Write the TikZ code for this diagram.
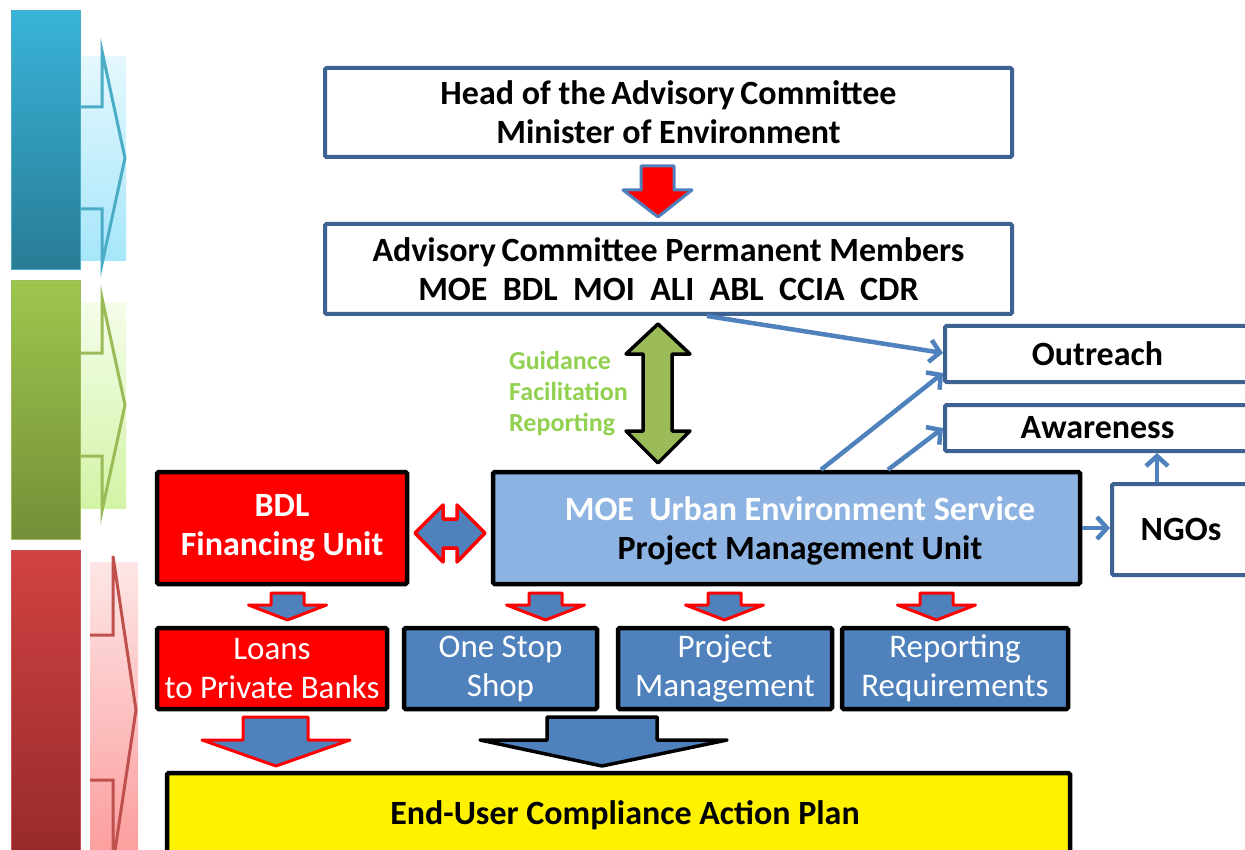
\documentclass[tikz,border=0pt]{standalone}
\usepackage{fontspec}
\setmainfont{Carlito}
\usetikzlibrary{arrows.meta,calc}

\definecolor{steel}{HTML}{3E6291}
\definecolor{accent}{HTML}{4F81BD}
\definecolor{pmufill}{HTML}{8DB3E2}
\definecolor{olive}{HTML}{9BBB59}
\definecolor{guide}{HTML}{92D050}
% side bars
\definecolor{cyantop}{HTML}{39B3D9}
\definecolor{cyanbot}{HTML}{297C95}
\definecolor{cyanpaletop}{HTML}{E4F8FE}
\definecolor{cyanpalebot}{HTML}{A6E6FA}
\definecolor{cyanline}{HTML}{4BACC6}
\definecolor{greentop}{HTML}{9DC64D}
\definecolor{greenbot}{HTML}{748F38}
\definecolor{greenpaletop}{HTML}{F4FDE9}
\definecolor{greenpalebot}{HTML}{D3F4A6}
\definecolor{redtop}{HTML}{D14242}
\definecolor{redbot}{HTML}{962A2A}
\definecolor{redpaletop}{HTML}{FDE6E6}
\definecolor{redpalebot}{HTML}{FC9C9C}
\definecolor{redline}{HTML}{C0504D}

\tikzset{
  outlinebox/.style={draw=steel, line width=4pt, fill=white, rounded corners=1.5pt, inner sep=0pt},
  unitbox/.style={draw=black, line width=4.5pt, rounded corners=1.5pt, inner sep=0pt},
  headtext/.style={font=\fontsize{34}{39}\selectfont\bfseries, align=center},
  rowtext/.style={font=\fontsize{33}{39}\selectfont, text=white, align=center},
  link/.style={draw=accent, line width=4.5pt, -{Straight Barb[length=10pt,width=22pt]}},
  blockarrow/.style={fill=accent, line width=3pt, line join=round},
  sideline/.style={line width=3pt, line join=miter},
}

\begin{document}
\begin{tikzpicture}[x=1pt,y=-1pt]
\clip (0,0) rectangle (1245,850);
\fill[white] (0,0) rectangle (1245,850);

% ---- side bars with chevrons ----
\shade[top color=cyanpaletop, bottom color=cyanpalebot] (79,57) rectangle (126,261);
\draw[sideline, draw=cyanline] (79,107) -- (102,107) -- (102,51) -- (125,158) -- (102,264) -- (102,209) -- (79,209);
\shade[top color=cyantop, bottom color=cyanbot, draw=cyanline, line width=1pt] (11,11) rectangle (80,270);

\shade[top color=greenpaletop, bottom color=greenpalebot] (79,303) rectangle (126,508);
\draw[sideline, draw=olive] (79,353) -- (102,353) -- (102,298) -- (125,405) -- (102,511) -- (102,456) -- (79,456);
\shade[top color=greentop, bottom color=greenbot, draw=olive, line width=1pt] (11,281) rectangle (80,539);

\shade[top color=redpaletop, bottom color=redpalebot] (90,562) rectangle (138,860);
\draw[sideline, draw=redline] (90,635) -- (113,635) -- (113,556) -- (136,710) -- (113,864) -- (113,780) -- (90,780);
\shade[top color=redtop, bottom color=redbot, draw=redline, line width=1pt] (11,550) rectangle (80,860);

% ---- committee ----
\node[outlinebox, headtext, minimum width=687pt, minimum height=89pt] (head) at (668.5,112.5)
  {Head of the\,Advisory\,Committee\\Minister of Environment};
\node[outlinebox, headtext, minimum width=687pt, minimum height=90pt] (adv) at (668.5,269)
  {Advisory\,Committee Permanent Members\\MOE~~BDL~~MOI~~ALI~~ABL~~CCIA~~CDR};

% red block arrow head -> committee
\draw[fill=red, draw=accent, line width=3pt, line join=round]
  (641,166) -- (674,166) -- (674,190) -- (692,190) -- (658,217) -- (623,190) -- (641,190) -- cycle;

% ---- outreach side ----
\node[outlinebox, headtext, minimum width=305pt, minimum height=56pt] (out) at (1097.5,354) {Outreach};
\node[outlinebox, headtext, minimum width=305pt, minimum height=46pt] (aware) at (1097.5,428) {Awareness};
\node[outlinebox, headtext, minimum width=138pt, minimum height=91pt] (ngo) at (1181,529.5) {NGOs};

% ---- units ----
\node[unitbox, fill=pmufill, minimum width=587pt, minimum height=112pt] (pmu) at (786.5,528) {};
\node[headtext] (pmutext) at (800,530.5)
  {\textcolor{white}{MOE~~Urban Environment Service}\\Project Management Unit};
\node[unitbox, fill=red, headtext, text=white, minimum width=250pt, minimum height=112pt] (bdl) at (282,528)
  {BDL\\Financing Unit};

% guidance arrow between committee and PMU
\draw[fill=olive, draw=black, line width=3.5pt, line join=round]
  (658,324) -- (690,354) -- (672,354) -- (672,431) -- (690,431) -- (658,463)
  -- (626,431) -- (643,431) -- (643,354) -- (626,354) -- cycle;
\node[font=\fontsize{26}{31}\selectfont\bfseries, text=guide, align=left, anchor=west, inner sep=0pt] (guidance)
  at (509,394) {Guidance\\Facilitation\\Reporting};

% BDL <-> PMU
\draw[fill=accent, draw=red, line width=3.5pt, line join=round]
  (415,533) -- (443,505) -- (443,519) -- (457,519) -- (457,505) -- (485,533)
  -- (457,562) -- (457,548) -- (443,548) -- (443,562) -- cycle;

% line connectors
\draw[link] ([xshift=38.5pt]adv.south) -- ([yshift=1pt]out.west);
\draw[link] ([xshift=34.5pt]pmu.north) -- ([yshift=-19pt]out.west);
\draw[link] ([xshift=101.5pt]pmu.north) -- (aware.west);
\draw[link] (pmu.east) -- (pmu.east -| ngo.west);
\draw[link] ([xshift=-24pt]ngo.north) -- ([xshift=-24pt]ngo.north |- aware.south);

% ---- second row ----
\node[unitbox, fill=red, rowtext, minimum width=230pt, minimum height=81pt] (loans) at (272,668.5)
  {Loans\\to Private Banks};
\node[unitbox, fill=accent, rowtext, minimum width=193pt, minimum height=81pt] (shop) at (500.5,668.5)
  {One Stop\\Shop};
\node[unitbox, fill=accent, rowtext, minimum width=214pt, minimum height=81pt] (proj) at (725,668.5)
  {Project\\Management};
\node[unitbox, fill=accent, rowtext, minimum width=226pt, minimum height=81pt] (rep) at (955,668.5)
  {Reporting\\Requirements};

% small arrows from units to second row
\foreach \cx in {287.5,545.5,724.5,936.5}{
  \draw[blockarrow, draw=red]
    (\cx-16.5,593) -- (\cx+16.5,593) -- (\cx+16.5,605) -- (\cx+39,605) -- (\cx,620)
    -- (\cx-39,605) -- (\cx-16.5,605) -- cycle;
}

% large arrows into the action plan
\draw[blockarrow, draw=red]
  (243,717) -- (308,717) -- (308,740) -- (350,740) -- (276,766) -- (202,740) -- (243,740) -- cycle;
\draw[blockarrow, draw=black, line width=3.5pt]
  (547,717) -- (657,717) -- (657,740) -- (727,740) -- (602,766) -- (480,740) -- (547,740) -- cycle;

% ---- action plan ----
\node[unitbox, fill=yellow, headtext, minimum width=903pt, minimum height=84pt] (plan) at (618.5,815)
  {\hspace*{13pt}End-User Compliance Action Plan};

\end{tikzpicture}
\end{document}
